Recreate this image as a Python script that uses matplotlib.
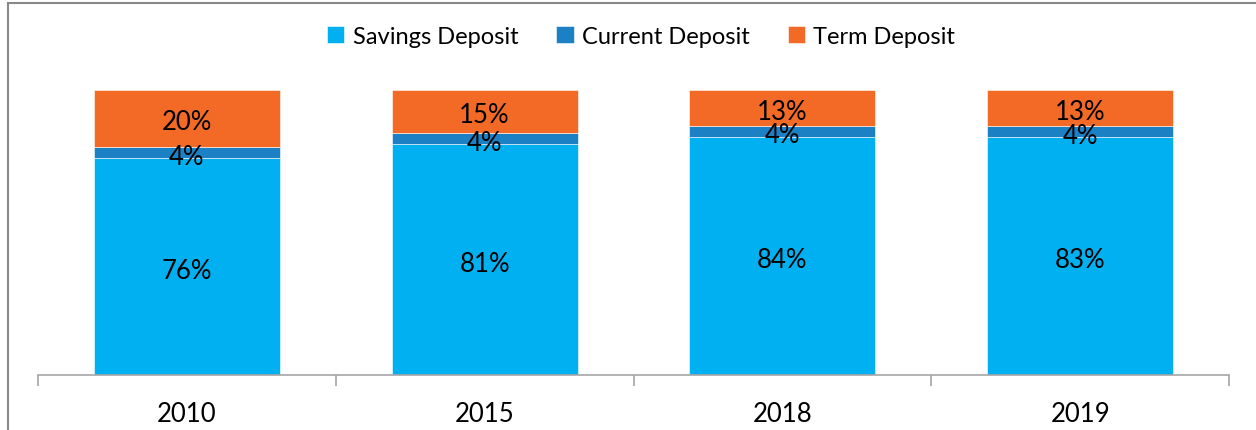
import matplotlib
matplotlib.use("Agg")
import matplotlib.pyplot as plt
from matplotlib.lines import Line2D
import numpy as np

years = ["2010", "2015", "2018", "2019"]
savings = [76.0, 81.0, 83.6, 83.4]
current = [4.1, 3.9, 3.9, 3.8]
term = [19.9, 15.1, 12.6, 12.8]
series_names = ["Savings Deposit", "Current Deposit", "Term Deposit"]
colors = ["#00B0F0", "#1B80C4", "#F26A25"]

plt.rcParams['font.family'] = ['Lato', 'DejaVu Sans']

fig = plt.figure(figsize=(12.56, 4.31), dpi=100)
ax = fig.add_axes([38/1256, 1-376/431, (1229-38)/1256, (376-91)/431])

x = np.arange(len(years))
width = 0.625
bottom = np.zeros(len(years))
for vals, name, col in zip([savings, current, term], series_names, colors):
    vals = np.array(vals)
    bars = ax.bar(x, vals, width, bottom=bottom, color=col, label=name,
                  edgecolor='white', linewidth=0.4)
    for xi, b, v in zip(x, bottom, vals):
        ax.annotate(f"{v:.0f}%", (xi, b + v/2), xytext=(0, -2.5),
                    textcoords='offset points', ha='center', va='center',
                    fontsize=18.5, color='black')
    bottom += vals

ax.set_xlim(-0.5, 3.5)
ax.set_ylim(0, 100)
ax.set_yticks([])
for s in ['top', 'right', 'left']:
    ax.spines[s].set_visible(False)
ax.spines['bottom'].set_color('#A6A6A6')
ax.spines['bottom'].set_linewidth(1.2)
ax.set_xticks(x)
ax.set_xticklabels(years, fontsize=18.5)
ax.tick_params(axis='x', which='major', length=0, pad=19)
ax.set_xticks(np.arange(-0.5, 4.0, 1.0), minor=True)
ax.tick_params(axis='x', which='minor', length=8, width=1.2, color='#A6A6A6')

leg = fig.legend(loc='center', bbox_to_anchor=(641/1256, 1-37/431), ncol=3,
                 frameon=False, fontsize=17, handlelength=0.75, handleheight=0.75,
                 handletextpad=0.35, columnspacing=1.6)

# outer frame (partially visible)
fig.add_artist(Line2D([8/1256, 1.0], [1-4/431, 1-4/431], color='#898989', lw=1.5,
                      transform=fig.transFigure))
fig.add_artist(Line2D([8/1256, 8/1256], [0, 1-4/431], color='#898989', lw=1.5,
                      transform=fig.transFigure))

fig.savefig("out.png", dpi=100)
